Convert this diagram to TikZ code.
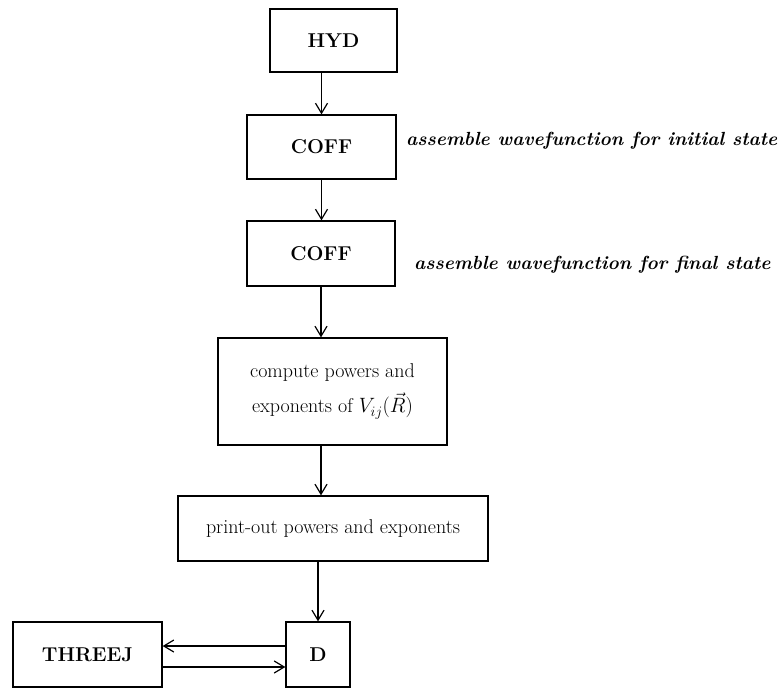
\documentclass[tikz,border=0pt]{standalone}
\usetikzlibrary{arrows.meta}
\begin{document}
\begin{tikzpicture}[x=1pt,y=-1pt,
  box/.style={draw,line width=1.3pt,inner sep=0pt,font=\fontsize{20}{24}\selectfont\bfseries},
  txtbox/.style={draw,line width=1.3pt,inner sep=0pt,align=center,font=\fontsize{20}{35}\selectfont},
  note/.style={anchor=west,inner sep=0pt,font=\fontsize{19}{23}\selectfont\bfseries\itshape},
  arr/.style={line width=1.2pt,-{Straight Barb[length=10pt,width=12pt,line width=1.2pt]}}]
\useasboundingbox (0,0) rectangle (783,688);

% program units
\node[box,minimum width=127pt,minimum height=63pt] (hyd) at (333.5,40.5) {HYD};
\node[box,minimum width=149pt,minimum height=64pt] (coffi) at (321.5,147) {COFF};
\node[box,minimum width=148pt,minimum height=65pt] (coffj) at (321,253.5) {COFF};
\node[txtbox,minimum width=229pt,minimum height=107pt] (comp) at (332.5,391.5)
  {compute powers and\\ exponents of $V_{ij}(\vec{R})$};
\node[txtbox,minimum width=310pt,minimum height=65pt] (print) at (333,528.5)
  {print-out powers and exponents};
\node[box,minimum width=149pt,minimum height=65pt] (threej) at (87.5,654.5) {THREEJ};
\node[box,minimum width=64pt,minimum height=65pt] (d) at (318,654.5) {D};

% side remarks
\node[note] (ni) at (406,141) {assemble wavefunction for initial state};
\node[note] (nf) at (414,265) {assemble wavefunction for final state};

% flow
\draw[arr] (hyd.south -| coffi.north) -- (coffi.north);
\draw[arr] (coffi.south) -- (coffi.south |- coffj.north);
\draw[arr] (coffj.south) -- (coffj.south |- comp.north);
\draw[arr] (comp.south -| coffj.south) -- (print.north -| coffj.south);
\draw[arr] (print.south -| d.north) -- (d.north);
\draw[arr] ([yshift=8.5pt]d.west) -- ([yshift=8.5pt]threej.east);
\draw[arr] ([yshift=-12.5pt]threej.east) -- ([yshift=-12.5pt]d.west);
\end{tikzpicture}
\end{document}
